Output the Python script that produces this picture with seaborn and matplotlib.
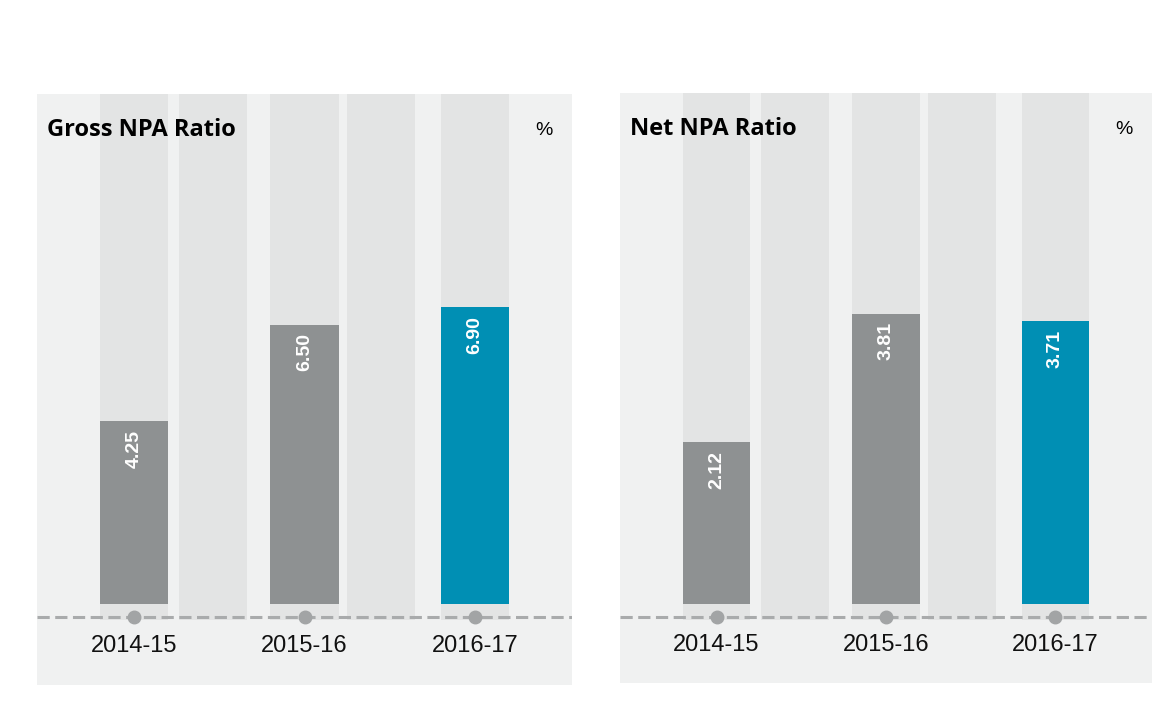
import matplotlib
matplotlib.use("Agg")
import matplotlib.pyplot as plt
import seaborn as sns

# 데이터
years = ["2014-15", "2015-16", "2016-17"]
gross_npa = [4.25, 6.50, 6.90]
net_npa = [2.12, 3.81, 3.71]
panel_titles = ["Gross NPA Ratio", "Net NPA Ratio"]

# 색상
BG = "#f0f1f1"
STRIPE = "#e3e4e4"
GREY_BAR = "#8e9192"
BLUE_BAR = "#008fb4"
LINE = "#a9abac"

sns.set_theme(style="white")
plt.rcParams['font.family'] = ['Liberation Sans', 'DejaVu Sans']

fig = plt.figure(figsize=(11.72, 7.2), dpi=100)
fig.patch.set_facecolor("white")

# 패널 위치 (그림 비율)
ax_left = fig.add_axes([0.0316, 0.0486, 0.4565, 0.8208])
ax_right = fig.add_axes([0.529, 0.0514, 0.454, 0.819])


def draw_panel(ax, values, title, ymax, zero_frac, line_frac, stripe_frac, label_frac):
    ymin = -zero_frac / (1 - zero_frac) * ymax
    span = ymax - ymin
    ax.set_facecolor(BG)

    # 배경 줄무늬
    stripe_x = [0, 0.465, 1, 1.45, 2]
    stripe_bottom = ymin + stripe_frac * span
    ax.bar(stripe_x, ymax - stripe_bottom, bottom=stripe_bottom, width=0.4,
           color=STRIPE, zorder=0, linewidth=0)

    colors = [GREY_BAR] * (len(values) - 1) + [BLUE_BAR]
    sns.barplot(x=years, y=values, hue=years, palette=colors, legend=False,
                width=0.4, saturation=1, ax=ax, zorder=2, linewidth=0)

    for i, v in enumerate(values):
        ax.annotate(f"{v:.2f}", xy=(i, v), xytext=(0, -6), textcoords="offset points",
                    rotation=90, ha="center", va="top", color="white",
                    fontsize=14, fontweight="bold", fontstretch="condensed",
                    family=['Liberation Sans Narrow', 'Liberation Sans', 'DejaVu Sans'],
                    zorder=4)

    # 점선 기준선과 점
    line_y = ymin + line_frac * span
    ax.axhline(line_y, color=LINE, lw=2.2, dashes=(4, 1.8), zorder=3)
    ax.plot(range(len(years)), [line_y] * len(years), "o", color="#a2a4a5",
            markersize=9, zorder=5)

    # 연도 라벨
    for i, yr in enumerate(years):
        ax.text(i, ymin + label_frac * span, yr, ha="center", va="center",
                fontsize=17, color="#111111")

    ax.text(0.018, 0.939, title, transform=ax.transAxes, ha="left", va="center",
            fontsize=17, fontweight="bold", family=['Open Sans', 'DejaVu Sans'],
            color="black")
    ax.text(0.947, 0.939, "%", transform=ax.transAxes, ha="center", va="center",
            fontsize=14, color="black")

    ax.set_xlim(-0.57, 2.57)
    ax.set_ylim(ymin, ymax)
    ax.set_xticks([])
    ax.set_yticks([])
    ax.set_xlabel("")
    ax.set_ylabel("")
    for s in ax.spines.values():
        s.set_visible(False)


draw_panel(ax_left, gross_npa, panel_titles[0], 11.86, 0.137, 0.115, 0.110, 0.066)
draw_panel(ax_right, net_npa, panel_titles[1], 6.70, 0.134, 0.112, 0.107, 0.064)

plt.savefig("out.png", dpi=100, facecolor="white")
